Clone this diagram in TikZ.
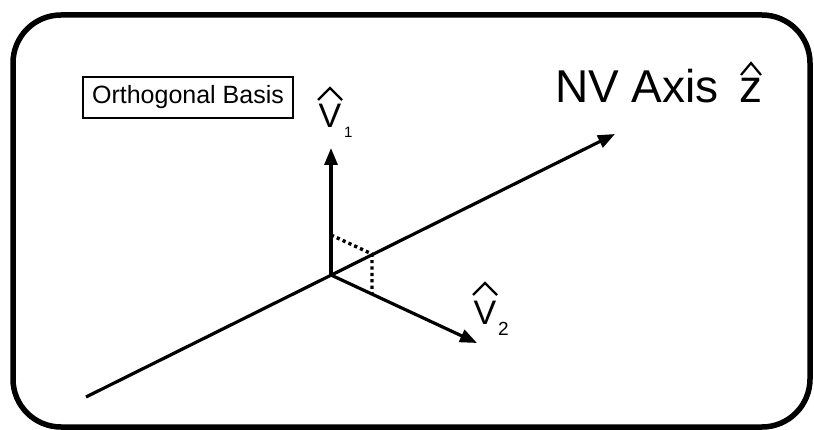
\documentclass[tikz,border=0pt]{standalone}
\usepackage{fontspec}
\setmainfont{Liberation Sans}
\usetikzlibrary{arrows.meta}
\begin{document}
\begin{tikzpicture}[x=1pt,y=-1pt,
 vecline/.style={line width=3.2pt,-{Triangle[length=17pt,width=13pt]}},
 dotline/.style={line width=3.4pt,dash pattern=on 3.2pt off 3.2pt},
 hatline/.style={line width=2.2pt,line join=miter},
 bigV/.style={font=\fontsize{34}{34}\selectfont,inner sep=0pt},
 subone/.style={font=\fontsize{15}{15}\selectfont,inner sep=0pt},
 subtwo/.style={font=\fontsize{19}{19}\selectfont,inner sep=0pt},
 titletext/.style={font=\fontsize{46}{46}\selectfont,inner sep=0pt},
 basisbox/.style={draw,line width=2pt,minimum width=210pt,minimum height=41pt,inner sep=0pt,font=\fontsize{25}{25}\selectfont}]
\useasboundingbox (0,0) rectangle (814,430);
% frame
\draw[line width=5.5pt,rounded corners=48pt] (13,15) rectangle (810,427);
% box
\node[basisbox] (basis) at (188,97.5) {Orthogonal Basis};
% coordinates
\coordinate (O) at (331,275);
\coordinate (v1tip) at (331,148);
\coordinate (v2tip) at (477,343);
\coordinate (axs) at (86,397);
\coordinate (axtip) at (615,134);
\coordinate (v1pt) at (331,235);
\coordinate (v2pt) at (372,294);
\coordinate (axpt) at (372,254);
% lines
\draw[vecline] (axs) -- (axtip);
\draw[vecline] (O) -- (v1tip);
\draw[vecline] (O) -- (v2tip);
\draw[dotline] (v1pt) -- (axpt) -- (v2pt);
% labels
\node[bigV,anchor=base] (v1V) at (330,128) {V};
\node[subone,anchor=base west] (v1s) at (344,138) {1};
\draw[hatline] ([shift={(-12,-28)}]v1V.base) -- ([shift={(0,-40)}]v1V.base) -- ([shift={(12,-28)}]v1V.base);
\node[bigV,anchor=base] (v2V) at (485,325) {V};
\node[subtwo,anchor=base west] (v2s) at (498,336) {2};
\draw[hatline] ([shift={(-12,-30)}]v2V.base) -- ([shift={(0,-42)}]v2V.base) -- ([shift={(12,-30)}]v2V.base);
\node[titletext,anchor=base west] (nv) at (555,103) {NV Axis};
\node[titletext,anchor=base west] (zz) at (739,103) {z};
\draw[hatline] ([shift={(2,-28)}]zz.base west) -- ([shift={(12,-40)}]zz.base west) -- ([shift={(22,-28)}]zz.base west);
\end{tikzpicture}
\end{document}
